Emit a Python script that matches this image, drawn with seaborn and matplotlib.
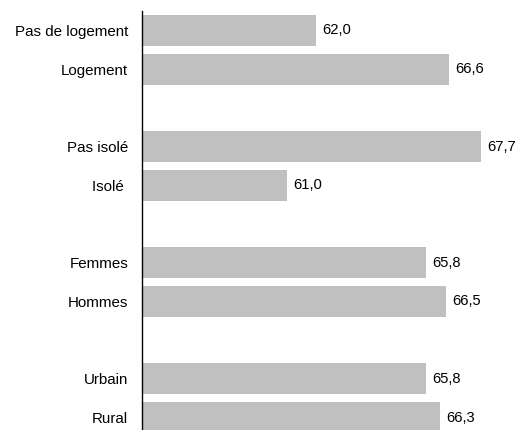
import numpy as np
import pandas as pd
import matplotlib
matplotlib.use("Agg")
import matplotlib.pyplot as plt
import seaborn as sns

# ── Data ─────────────────────────────────────────────────────────────────────
labels = ["Pas de logement", "Logement", "Pas isolé", "Isolé ",
          "Femmes", "Hommes", "Urbain", "Rural"]
values = [62.0, 66.6, 67.7, 61.0, 65.8, 66.5, 65.8, 66.3]

sns.set_style("white")
plt.rcParams["font.family"] = ["Liberation Sans", "DejaVu Sans"]

# two bars per group, one empty slot between groups
pos = [i + i // 2 for i in range(len(labels))]
df = pd.DataFrame({"label": labels, "value": values, "pos": pos})

fig = plt.figure(figsize=(5.23, 4.30), dpi=100)
ax = fig.add_axes([142 / 523, -7 / 430, 1 - 142 / 523, 1 - 11 / 430 + 7 / 430])

sns.barplot(data=df, x="value", y="pos", orient="h", native_scale=True,
            width=0.8, color="#c0c0c0", saturation=1, linewidth=0, ax=ax)

ax.bar_label(ax.containers[0],
             labels=[f"{v:.1f}".replace(".", ",") for v in values],
             padding=4.5, fontsize=10.6, color="black")

ax.set_xlim(56, 56 + 381 / 28.96)
ax.set_ylim(10.5, -0.5)
ax.set_yticks(pos)
ax.set_yticklabels(labels, fontsize=10.9, color="black")
ax.tick_params(axis="y", length=0, pad=10)
ax.set_xticks([])
ax.set_xlabel("")
ax.set_ylabel("")

for side in ["top", "right", "bottom"]:
    ax.spines[side].set_visible(False)
ax.spines["left"].set_color("black")
ax.spines["left"].set_linewidth(1.0)

fig.savefig("out.png", dpi=100)
